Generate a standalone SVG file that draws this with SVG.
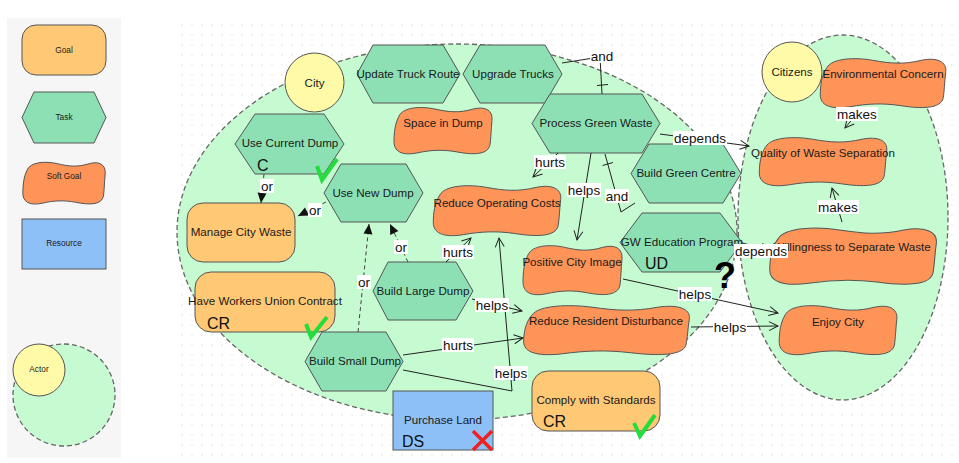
<svg xmlns="http://www.w3.org/2000/svg" width="959" height="463" viewBox="0 0 959 463">
<style>
text{font-family:"Liberation Sans",Arial,sans-serif;fill:#1a1a1a;text-anchor:middle}
.nl{font-size:11.6px}
.pl{font-size:8.3px}
.ll{font-size:13.5px;fill:#111}
.big{font-size:16px;text-anchor:start;fill:#111}
.task{fill:#8ce0b4;stroke:#555;stroke-width:1}
.goal{fill:#ffc874;stroke:#555;stroke-width:1}
.soft{fill:#fe9457;stroke:#555;stroke-width:1}
.res{fill:#8ec0f8;stroke:#555;stroke-width:1}
.actor{fill:#fffaa8;stroke:#555;stroke-width:1}
.bound{fill:#c6fad0;stroke:#666;stroke-width:1.3;stroke-dasharray:5 3}
.link{fill:none;stroke:#222;stroke-width:1}
.or{stroke:#444;stroke-dasharray:4 3}
.lb{fill:#fff}
.chk{fill:none;stroke:#22dd3a;stroke-width:4}
</style>
<defs>
<pattern id="grid" x="177" y="20" width="10" height="10" patternUnits="userSpaceOnUse"><rect x="4.5" y="4.5" width="1" height="1" fill="#c9c9c9"/></pattern>
<symbol id="sg" viewBox="0 0 100 100" preserveAspectRatio="none" overflow="visible">
<path vector-effect="non-scaling-stroke" d="M6,22 C10,4 28,2 42,8 C56,14 66,16 80,8 C92,2 100,10 99,30 C98,50 98,64 97,78 C95,98 80,98 64,92 C50,87 38,88 24,94 C8,100 1,90 1,72 C1,55 2,36 6,22 Z"/>
</symbol>
<marker id="tri" markerUnits="userSpaceOnUse" markerWidth="11" markerHeight="10" refX="10" refY="4.5" orient="auto" overflow="visible"><path d="M0,0 L10,4.5 L0,9 Z" fill="#111" stroke="none"/></marker>
<marker id="open" markerUnits="userSpaceOnUse" markerWidth="11" markerHeight="11" refX="9" refY="4.5" orient="auto" overflow="visible"><path d="M0,0 L9,4.5 L0,9" fill="none" stroke="#222" stroke-width="1"/></marker>
</defs>
<rect width="959" height="463" fill="#fff"/>
<rect x="177" y="20" width="782" height="437" fill="url(#grid)"/>

<g id="palette">
<rect x="7" y="18" width="114" height="440" fill="#f6f6f6"/>
<g id="pal-goal"><rect class="goal" x="22" y="25" width="84" height="50" rx="14"/><text class="pl" x="64" y="53">Goal</text></g>
<g id="pal-task"><polygon class="task" points="22,117.5 34,92 94,92 106,117.5 94,143 34,143"/><text class="pl" x="64" y="120">Task</text></g>
<g id="pal-soft"><use href="#sg" class="soft" x="22" y="160" width="84" height="46"/><text class="pl" x="64" y="179">Soft Goal</text></g>
<g id="pal-res"><rect class="res" x="22" y="219" width="84" height="50"/><text class="pl" x="64" y="246">Resource</text></g>
<g id="pal-actor"><circle class="bound" cx="64" cy="395" r="51"/><circle class="actor" cx="39" cy="370" r="26"/><text class="pl" x="39" y="372">Actor</text></g>
</g>

<g id="city-boundary"><ellipse class="bound" cx="457" cy="232" rx="280" ry="188"/></g>
<g id="citizens-boundary"><ellipse class="bound" cx="843" cy="217.5" rx="105" ry="182.5"/></g>

<g id="city"><circle class="actor" cx="314.5" cy="82.5" r="29.5"/><text class="nl" x="314.5" y="87">City</text></g>
<g id="citizens"><circle class="actor" cx="792" cy="72" r="30"/><text class="nl" x="792" y="76">Citizens</text></g>

<g id="update-truck-route"><polygon class="task" points="357,74 373,45 443,45 460,74 443,103 373,103"/><text class="nl" x="408" y="78">Update Truck Route</text></g>
<g id="upgrade-trucks"><polygon class="task" points="463,74 480,45 545,45 562,74 545,103 480,103"/><text class="nl" x="513" y="78">Upgrade Trucks</text></g>
<g id="space-in-dump"><use href="#sg" class="soft" x="393" y="105" width="100" height="51"/><text class="nl" x="443" y="127">Space in Dump</text></g>
<g id="process-green-waste"><polygon class="task" points="532,123.5 550,94 642,94 660,123.5 642,153 550,153"/><text class="nl" x="596" y="127">Process Green Waste</text></g>
<g id="use-current-dump"><polygon class="task" points="235,144 255,114 324,114 344,144 324,174 255,174"/><text class="nl" x="290" y="147">Use Current Dump</text><text class="big" x="257" y="171">C</text><path class="chk" d="M317,166 L322,180 L337,159"/></g>
<g id="use-new-dump"><polygon class="task" points="324,193 341,164 406,164 423,193 406,222 341,222"/><text class="nl" x="373" y="197">Use New Dump</text></g>
<g id="manage-city-waste"><rect class="goal" x="187" y="203" width="108" height="59" rx="16"/><text class="nl" x="241" y="236">Manage City Waste</text></g>
<g id="have-workers-union-contract"><rect class="goal" x="195" y="272" width="140" height="60" rx="16"/><text class="nl" x="265" y="305">Have Workers Union Contract</text><text class="big" x="207" y="329">CR</text><path class="chk" d="M306,324 L311,337 L327,317"/></g>
<g id="build-large-dump"><polygon class="task" points="373,291 388,262 456,262 473,291 456,320 388,320"/><text class="nl" x="423" y="295">Build Large Dump</text></g>
<g id="build-small-dump"><polygon class="task" points="305,361.5 322,332 386,332 403,361.5 386,391 322,391"/><text class="nl" x="355" y="365">Build Small Dump</text></g>
<g id="purchase-land"><rect class="res" x="393" y="391" width="100" height="59"/><text class="nl" x="443" y="424">Purchase Land</text><text class="big" x="402" y="447">DS</text><path d="M473,431 L492,450 M492,431 L473,450" stroke="#ee2222" stroke-width="3.5" fill="none"/></g>
<g id="reduce-operating-costs"><use href="#sg" class="soft" x="432" y="183" width="130" height="55"/><text class="nl" x="497" y="207">Reduce Operating Costs</text></g>
<g id="positive-city-image"><use href="#sg" class="soft" x="522" y="243" width="101" height="54"/><text class="nl" x="572" y="266">Positive City Image</text></g>
<g id="reduce-resident-disturbance"><use href="#sg" class="soft" x="522" y="303" width="169" height="54"/><text class="nl" x="606" y="325">Reduce Resident Disturbance</text></g>
<g id="comply-with-standards"><rect class="goal" x="532" y="371" width="128" height="60" rx="16"/><text class="nl" x="596" y="404">Comply with Standards</text><text class="big" x="543" y="427">CR</text><path class="chk" d="M634,423 L640,436 L655,415"/></g>
<g id="build-green-centre"><polygon class="task" points="631,173.5 649,144 723,144 741,173.5 723,203 649,203"/><text class="nl" x="686" y="177">Build Green Centre</text></g>
<g id="gw-education-program"><polygon class="task" points="620,242.5 642,213 720,213 742,242.5 720,272 642,272"/><text class="nl" x="682" y="246">GW Education Program</text><text class="big" x="645" y="269">UD</text></g>
<g id="environmental-concern"><use href="#sg" class="soft" x="819" y="56" width="128" height="54"/><text class="nl" x="883" y="78">Environmental Concern</text></g>
<g id="quality-of-waste-separation"><use href="#sg" class="soft" x="758" y="135" width="130" height="53"/><text class="nl" x="823" y="157">Quality of Waste Separation</text></g>
<g id="willingness-to-separate-waste"><use href="#sg" class="soft" x="768" y="225" width="170" height="62"/><text class="nl" x="852" y="251">Willingness to Separate Waste</text></g>
<g id="enjoy-city"><use href="#sg" class="soft" x="778" y="303" width="120" height="54"/><text class="nl" x="838" y="326">Enjoy City</text></g>

<g id="connectors">
<line class="link or" x1="264" y1="174" x2="261" y2="203" marker-end="url(#tri)"/>
<line class="link or" x1="326" y1="202" x2="298" y2="216" marker-end="url(#tri)"/>
<line class="link or" x1="358" y1="332" x2="369" y2="224" marker-end="url(#tri)"/>
<line class="link or" x1="408" y1="262" x2="390" y2="224" marker-end="url(#tri)"/>
<line class="link" x1="446" y1="262" x2="471" y2="238" marker-end="url(#open)"/>
<line class="link" x1="558" y1="153" x2="533" y2="177" marker-end="url(#open)"/>
<line class="link" x1="591" y1="153" x2="577" y2="240" marker-end="url(#open)"/>
<polyline class="link" points="562,63 600,57 602,94"/>
<line class="link" x1="597" y1="85.5" x2="608" y2="84.5"/>
<polyline class="link" points="635,203 621,212 605,154"/>
<line class="link" x1="602.5" y1="165.5" x2="613" y2="162.5"/>
<line class="link" x1="660" y1="134" x2="749" y2="146" marker-end="url(#open)"/>
<line class="link" x1="742" y1="243" x2="770" y2="250" marker-end="url(#open)"/>
<line class="link" x1="623" y1="279" x2="778" y2="313" marker-end="url(#open)"/>
<line class="link" x1="691" y1="327" x2="778" y2="326" marker-end="url(#open)"/>
<line class="link" x1="472" y1="299" x2="522" y2="311" marker-end="url(#open)"/>
<line class="link" x1="403" y1="355" x2="523" y2="338" marker-end="url(#open)"/>
<polyline class="link" points="403,370 512,391 499,238" marker-end="url(#open)"/>
<line class="link" x1="860" y1="110" x2="845" y2="128" marker-end="url(#open)"/>
<line class="link" x1="842" y1="222" x2="832" y2="188" marker-end="url(#open)"/>

<g id="link-labels">
<rect class="lb" x="260" y="179" width="14" height="14"/><text class="ll" x="267" y="191">or</text>
<rect class="lb" x="308" y="203" width="14" height="14"/><text class="ll" x="315" y="215">or</text>
<rect class="lb" x="357" y="275" width="14" height="14"/><text class="ll" x="364" y="287">or</text>
<rect class="lb" x="394" y="240" width="14" height="14"/><text class="ll" x="401" y="252">or</text>
<rect class="lb" x="442" y="245" width="32" height="14"/><text class="ll" x="458" y="257">hurts</text>
<rect class="lb" x="534" y="155" width="32" height="14"/><text class="ll" x="550" y="167">hurts</text>
<rect class="lb" x="567" y="183" width="34" height="14"/><text class="ll" x="584" y="195">helps</text>
<rect class="lb" x="590" y="49" width="24" height="14"/><text class="ll" x="602" y="61">and</text>
<rect class="lb" x="605" y="189" width="24" height="14"/><text class="ll" x="617" y="201">and</text>
<rect class="lb" x="673" y="131" width="54" height="14"/><text class="ll" x="700" y="143">depends</text>
<rect class="lb" x="734" y="244" width="54" height="14"/><text class="ll" x="761" y="256">depends</text>
<rect class="lb" x="678" y="287" width="34" height="14"/><text class="ll" x="695" y="299">helps</text>
<rect class="lb" x="713" y="320" width="34" height="14"/><text class="ll" x="730" y="332">helps</text>
<rect class="lb" x="475" y="298" width="34" height="14"/><text class="ll" x="492" y="310">helps</text>
<rect class="lb" x="442" y="338" width="32" height="14"/><text class="ll" x="458" y="350">hurts</text>
<rect class="lb" x="494" y="366" width="34" height="14"/><text class="ll" x="511" y="378">helps</text>
<rect class="lb" x="836" y="107" width="42" height="14"/><text class="ll" x="857" y="119">makes</text>
<rect class="lb" x="817" y="200" width="42" height="14"/><text class="ll" x="838" y="212">makes</text>
</g>
</g>
<text x="725" y="288" style="font-size:36px;font-weight:bold;fill:#000">?</text>
</svg>
